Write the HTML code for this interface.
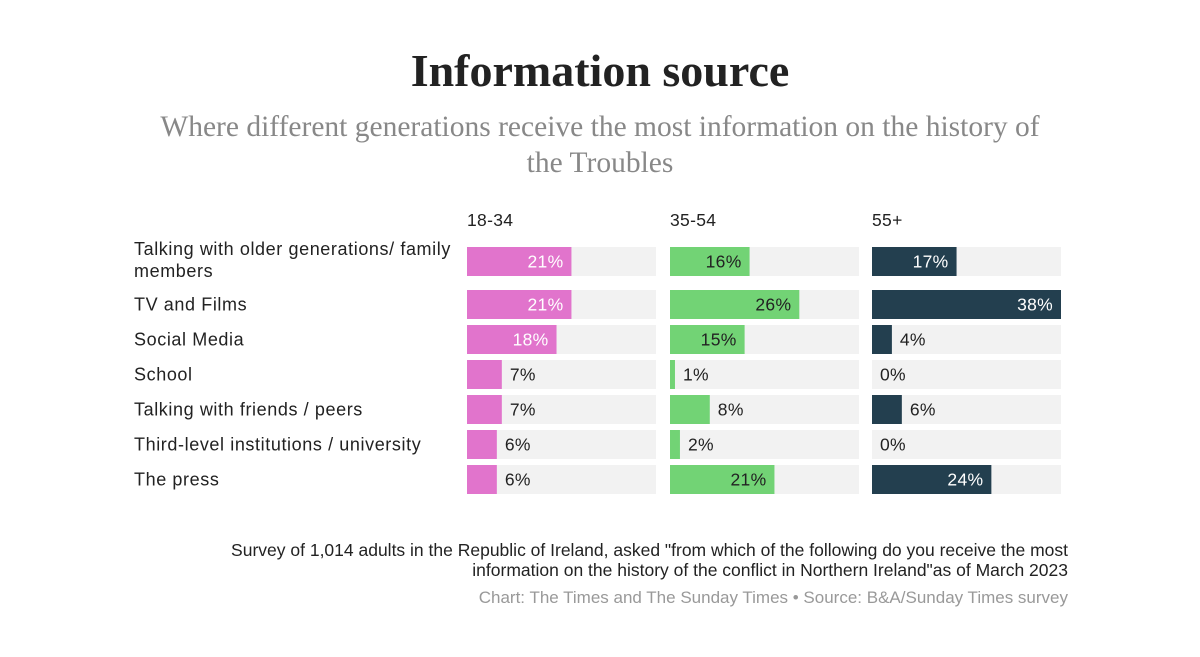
<!DOCTYPE html>
<html><head><meta charset="utf-8"><style>
body{margin:0;width:1200px;height:657px;background:#fff;font-family:"Liberation Sans",sans-serif;overflow:hidden}
#title{position:absolute;top:44px;left:0;width:1200px;text-align:center;font-family:"Liberation Serif",serif;font-weight:bold;font-size:46px;color:#222}
#sub{position:absolute;top:109px;left:145px;width:910px;text-align:center;font-family:"Liberation Serif",serif;font-size:29.5px;line-height:36px;color:#888}
.note{position:absolute;right:132px;text-align:right;font-size:17.5px;line-height:20px;color:#222;white-space:nowrap}
</style></head><body>
<div id="title">Information source</div>
<div id="sub">Where different generations receive the most information on the history of the Troubles</div>
<svg id="chart" width="1200" height="657" style="position:absolute;left:0;top:0"></svg>
<div class="note" style="top:540px">Survey of 1,014 adults in the Republic of Ireland, asked "from which of the following do you receive the most<br>information on the history of the conflict in Northern Ireland"as of March 2023</div>
<div class="note" style="top:588px;color:#999;font-size:17px">Chart: The Times and The Sunday Times • Source: B&amp;A/Sunday Times survey</div>
<script>
const categories=[["Talking with older generations/ family","members"],["TV and Films"],["Social Media"],["School"],["Talking with friends / peers"],["Third-level institutions / university"],["The press"]];
const groups=["18-34","35-54","55+"];
const v1834=[21,21,18,7,7,6,6];
const v3554=[16,26,15,1,8,2,21];
const v55=[17,38,4,0,6,0,24];
const series=[v1834,v3554,v55];
const colors=["#e174cc","#72d375","#233f4f"];
const inText=["#fff","#222","#fff"];
const NS="http://www.w3.org/2000/svg";
const svg=document.getElementById('chart');
const colX=[467,670,872],W=189,maxV=38;
const x=(v)=>v/maxV*W;
const rowY=[247,290,325,360,395,430,465],BH=29;
function mk(t,a,txt){const e=document.createElementNS(NS,t);for(const k in a)e.setAttribute(k,a[k]);if(txt!=null)e.textContent=txt;svg.appendChild(e);return e;}
groups.forEach((g,gi)=>{
  const t=mk('text',{x:colX[gi],y:226,'font-size':17.5,'letter-spacing':0.3,fill:'#222'},g);
  
  
});
categories.forEach((c,i)=>{
  const yc=rowY[i]+BH/2;
  c.forEach((line,li)=>{
    const t=mk('text',{x:134,y:(c.length>1?rowY[i]+8+li*22:yc+6),'font-size':18,'letter-spacing':0.6,fill:'#222'},line);
    
    
  });
  series.forEach((s,gi)=>{
    const bg=mk('rect',{x:colX[gi],y:rowY[i],width:W,height:BH,fill:'#f2f2f2'});
    
    
    const w=x(s[i]);
    const b=mk('rect',{x:colX[gi],y:rowY[i],width:w,height:BH,fill:colors[gi]});
    
    
    const inside=s[i]>=10;
    const lt=mk('text',{x:inside?colX[gi]+w-8:colX[gi]+w+8,y:yc+6,'font-size':17.5,'letter-spacing':0.3,fill:inside?inText[gi]:'#222','text-anchor':inside?'end':'start'},s[i]+'%');
    
    
  });
});
</script>
</body></html>
